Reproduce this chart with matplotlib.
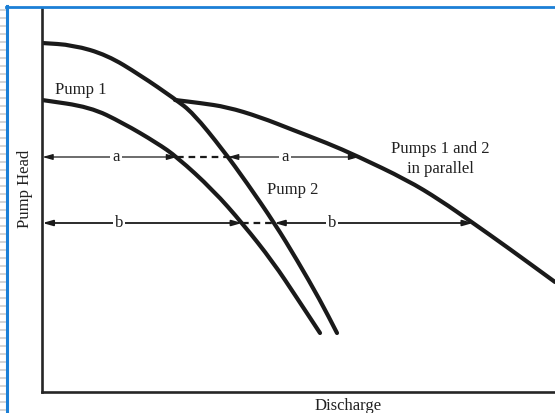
import numpy as np
import matplotlib
matplotlib.use("Agg")
import matplotlib.pyplot as plt
from matplotlib.lines import Line2D
from matplotlib.path import Path
from matplotlib.patches import PathPatch

# head-discharge curves (arbitrary units: discharge Q, head H)
pump1_q = [0, 48, 81, 115, 135, 171, 201, 231, 255, 278]
pump1_h = [292, 285, 269, 249, 235, 202, 168, 130, 94, 59]

pump2_q = [0, 31, 65, 98, 133, 151, 181, 205, 233, 255, 278, 295]
pump2_h = [349, 347, 337, 317, 293, 279, 242, 209, 168, 132, 92, 59]

par_q = [133, 158, 185, 218, 251, 285, 315, 365, 398, 431, 465, 513]
par_h = [292, 289, 285, 275, 262, 249, 236, 212, 192, 169, 145, 110]

# operating heads for the two construction lines and where their letters sit
head_levels = [235, 169]
level_names = ["a", "b"]
label_q_left = [74, 77]
label_q_right = [243, 290]

plt.rcParams['font.family'] = ['Liberation Serif', 'DejaVu Serif']
W, H = 555, 413
fig = plt.figure(figsize=(W / 100, H / 100), dpi=100)

def fx(px):
    return px / W

def fy(py):
    return 1 - py / H

ax = fig.add_axes([fx(42), fy(392), (555 - 42) / W, (392 - 8) / H])
ax.set_xlim(0, 513)
ax.set_ylim(0, 384)
for s in ["top", "right"]:
    ax.spines[s].set_visible(False)
for s in ["left", "bottom"]:
    ax.spines[s].set_linewidth(1.9)
    ax.spines[s].set_color("#262626")
ax.set_xticks([])
ax.set_yticks([])

def smooth_curve(qs, hs):
    # quadratic bezier through the midpoints, points used as control points
    pts = np.column_stack([qs, hs]).astype(float)
    verts = [pts[0], (pts[0] + pts[1]) / 2]
    codes = [Path.MOVETO, Path.LINETO]
    for i in range(1, len(pts) - 1):
        verts += [pts[i], (pts[i] + pts[i + 1]) / 2]
        codes += [Path.CURVE3, Path.CURVE3]
    verts.append(pts[-1])
    codes.append(Path.LINETO)
    patch = PathPatch(Path(verts, codes), facecolor="none", edgecolor="#1a1a1a",
                      lw=3.0, capstyle="round", joinstyle="round")
    ax.add_patch(patch)

smooth_curve(pump1_q, pump1_h)
smooth_curve(pump2_q, pump2_h)
smooth_curve(par_q, par_h)

def q_at(qs, hs, h):
    return np.interp(h, hs[::-1], qs[::-1])

arrow_style = "<|-|>,head_length=0.6,head_width=0.17"
for h, name, lw, ql, qr in zip(head_levels, level_names, [0.9, 1.3],
                               label_q_left, label_q_right):
    q1 = q_at(pump1_q, pump1_h, h)
    q2 = q_at(pump2_q, pump2_h, h)
    qp = q_at(par_q, par_h, h)
    # pump 1 flow
    ax.annotate("", xy=(0.5, h), xytext=(q1, h),
                arrowprops=dict(arrowstyle=arrow_style, color="#1a1a1a", lw=lw,
                                shrinkA=0, shrinkB=0, mutation_scale=10))
    ax.text(ql, h, name, ha="center", va="center", fontsize=12, color="#222",
            bbox=dict(facecolor="white", edgecolor="none", pad=1.5))
    # gap between the single pump curves
    ax.plot([q1, q2], [h, h], color="#1a1a1a", lw=1.6, dashes=(3, 2.2))
    # same flow added on at the combined curve
    ax.annotate("", xy=(q2, h), xytext=(qp, h),
                arrowprops=dict(arrowstyle=arrow_style, color="#1a1a1a", lw=lw,
                                shrinkA=0, shrinkB=0, mutation_scale=10))
    ax.text(qr, h, name, ha="center", va="center", fontsize=12, color="#222",
            bbox=dict(facecolor="white", edgecolor="none", pad=1.5))

ax.text(39, 302, "Pump 1", ha="center", va="center", fontsize=12, color="#222")
ax.text(251, 202, "Pump 2", ha="center", va="center", fontsize=12, color="#222")
ax.text(398, 233, "Pumps 1 and 2\nin parallel", ha="center", va="center",
        fontsize=12, color="#222", linespacing=1.35)

fig.text(fx(25), fy(189), "Pump Head", rotation=90, ha="center", va="center",
         fontsize=12, color="#222")
fig.text(fx(348), fy(398), "Discharge", ha="center", va="top", fontsize=12, color="#222")

# page frame and ruler ticks along the left edge
blue = "#1b7fd6"
fig.add_artist(Line2D([fx(6.5), fx(6.5)], [0, fy(6)], color=blue, lw=2.2))
fig.add_artist(Line2D([fx(5.5), 1], [fy(7), fy(7)], color=blue, lw=2.0))
for py in np.arange(10, 413, 8):
    fig.add_artist(Line2D([0, fx(5)], [fy(py), fy(py)], color="#d4d4d4", lw=1.4))

fig.savefig("out.png", dpi=100)
